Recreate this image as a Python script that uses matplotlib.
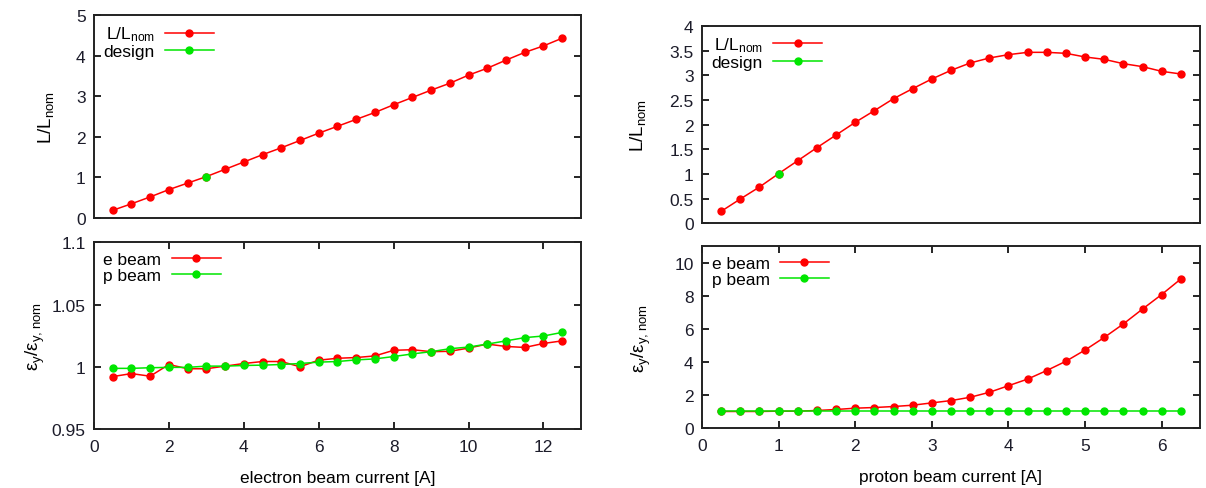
import matplotlib
matplotlib.use("Agg")
import matplotlib.pyplot as plt
from matplotlib.ticker import FormatStrFormatter

plt.rcParams["font.family"] = ["Liberation Sans", "DejaVu Sans"]
plt.rcParams["mathtext.fontset"] = "custom"
plt.rcParams["mathtext.rm"] = "Liberation Sans"
plt.rcParams["mathtext.default"] = "regular"
plt.rcParams["font.size"] = 12

# electron beam current scan (left)
e_current = [0.5, 1.0, 1.5, 2.0, 2.5, 3.0, 3.5, 4.0, 4.5, 5.0, 5.5, 6.0, 6.5,
             7.0, 7.5, 8.0, 8.5, 9.0, 9.5, 10.0, 10.5, 11.0, 11.5, 12.0, 12.5]
e_lumi = [0.19, 0.35, 0.52, 0.70, 0.86, 1.02, 1.20, 1.38, 1.56, 1.73, 1.91, 2.09, 2.26,
          2.43, 2.60, 2.79, 2.97, 3.15, 3.32, 3.52, 3.69, 3.89, 4.08, 4.24, 4.43]
e_design_x = [3.0]
e_design_y = [1.02]
e_scan_ebeam = [0.9921, 0.9945, 0.9924, 1.0018, 0.9984, 0.9984, 1.0005, 1.0026, 1.0042,
                1.0042, 1.0000, 1.0053, 1.0068, 1.0074, 1.0087, 1.0132, 1.0137, 1.0121,
                1.0124, 1.0150, 1.0182, 1.0163, 1.0155, 1.0187, 1.0208]
e_scan_pbeam = [0.9987, 0.9987, 0.9992, 0.9995, 0.9995, 1.0005, 1.0005, 1.0010, 1.0013,
                1.0018, 1.0026, 1.0037, 1.0042, 1.0055, 1.0063, 1.0082, 1.0103, 1.0121,
                1.0145, 1.0158, 1.0182, 1.0208, 1.0234, 1.0247, 1.0276]

# proton beam current scan (right)
p_current = [0.25, 0.5, 0.75, 1.0, 1.25, 1.5, 1.75, 2.0, 2.25, 2.5, 2.75, 3.0, 3.25,
             3.5, 3.75, 4.0, 4.25, 4.5, 4.75, 5.0, 5.25, 5.5, 5.75, 6.0, 6.25]
p_lumi = [0.243, 0.493, 0.736, 1.007, 1.27, 1.534, 1.79, 2.047, 2.284, 2.527, 2.73, 2.926,
          3.101, 3.25, 3.351, 3.419, 3.466, 3.466, 3.446, 3.372, 3.324, 3.236, 3.176,
          3.081, 3.027]
p_design_x = [1.0]
p_design_y = [1.0]
p_scan_ebeam = [1.0, 1.0, 1.0, 1.02, 1.02, 1.06, 1.12, 1.2, 1.24, 1.3, 1.38, 1.52, 1.66,
                1.86, 2.16, 2.56, 2.96, 3.48, 4.04, 4.72, 5.48, 6.3, 7.2, 8.08, 9.02]
p_scan_pbeam = [1.0] * 25

RED = "#ff0000"
GREEN = "#00e600"
TXT = "#1c1c2a"

fig = plt.figure(figsize=(12.06, 4.89), dpi=100)
ax_tl = fig.add_axes([0.0779, 0.5521, 0.4038, 0.4151])
ax_bl = fig.add_axes([0.0779, 0.1207, 0.4038, 0.3818])
ax_tr = fig.add_axes([0.5821, 0.5413, 0.4129, 0.4035])
ax_br = fig.add_axes([0.5821, 0.1227, 0.4129, 0.3716])

line_kw = dict(marker="o", markersize=5, linewidth=1.1)


def style(ax, xticks):
    for s in ax.spines.values():
        s.set_linewidth(1.4)
        s.set_color("#222222")
    ax.tick_params(axis="y", direction="in", left=True, right=True, length=5,
                   width=1.2, labelcolor=TXT, labelsize=12.5, pad=6)
    if xticks:
        ax.tick_params(axis="x", direction="in", bottom=True, top=True, length=5,
                       width=1.2, labelcolor=TXT, labelsize=12.5, pad=7)
    else:
        ax.set_xticks([])
    ax.yaxis.set_major_formatter(FormatStrFormatter("%g"))


def legend(ax):
    ax.legend(loc="upper left", frameon=False, markerfirst=False, handlelength=2.8,
              handletextpad=0.6, labelspacing=0.05, borderaxespad=0.15,
              fontsize=12.5, numpoints=1)


# top left
ax_tl.plot(e_current, e_lumi, color=RED, label=r"L/L$_{nom}$", **line_kw)
ax_tl.plot(e_design_x, e_design_y, color=GREEN, label="design", **line_kw)
ax_tl.set_xlim(0, 13)
ax_tl.set_ylim(0, 5)
ax_tl.set_yticks([0, 1, 2, 3, 4, 5])
ax_tl.set_ylabel(r"L/L$_{nom}$", fontsize=13.5, labelpad=14)
style(ax_tl, False)
legend(ax_tl)

# bottom left
ax_bl.plot(e_current, e_scan_ebeam, color=RED, label="e beam", **line_kw)
ax_bl.plot(e_current, e_scan_pbeam, color=GREEN, label="p beam", **line_kw)
ax_bl.set_xlim(0, 13)
ax_bl.set_ylim(0.95, 1.1)
ax_bl.set_yticks([0.95, 1.0, 1.05, 1.1])
ax_bl.set_xticks([0, 2, 4, 6, 8, 10, 12])
ax_bl.set_ylabel(r"ε$_y$/ε$_{y,nom}$", fontsize=13.5, labelpad=3)
ax_bl.set_xlabel("electron beam current [A]", fontsize=12.5, labelpad=12)
style(ax_bl, True)
legend(ax_bl)

# top right
ax_tr.plot(p_current, p_lumi, color=RED, label=r"L/L$_{nom}$", **line_kw)
ax_tr.plot(p_design_x, p_design_y, color=GREEN, label="design", **line_kw)
ax_tr.set_xlim(0, 6.5)
ax_tr.set_ylim(0, 4)
ax_tr.set_yticks([0, 0.5, 1, 1.5, 2, 2.5, 3, 3.5, 4])
ax_tr.set_ylabel(r"L/L$_{nom}$", fontsize=13.5, labelpad=15)
style(ax_tr, False)
legend(ax_tr)

# bottom right
ax_br.plot(p_current, p_scan_ebeam, color=RED, label="e beam", **line_kw)
ax_br.plot(p_current, p_scan_pbeam, color=GREEN, label="p beam", **line_kw)
ax_br.set_xlim(0, 6.5)
ax_br.set_ylim(0, 11)
ax_br.set_yticks([0, 2, 4, 6, 8, 10])
ax_br.set_xticks([0, 1, 2, 3, 4, 5, 6])
ax_br.set_ylabel(r"ε$_y$/ε$_{y,nom}$", fontsize=13.5, labelpad=15)
ax_br.set_xlabel("proton beam current [A]", fontsize=12.5, labelpad=12)
style(ax_br, True)
legend(ax_br)

fig.savefig("out.png", dpi=100)
